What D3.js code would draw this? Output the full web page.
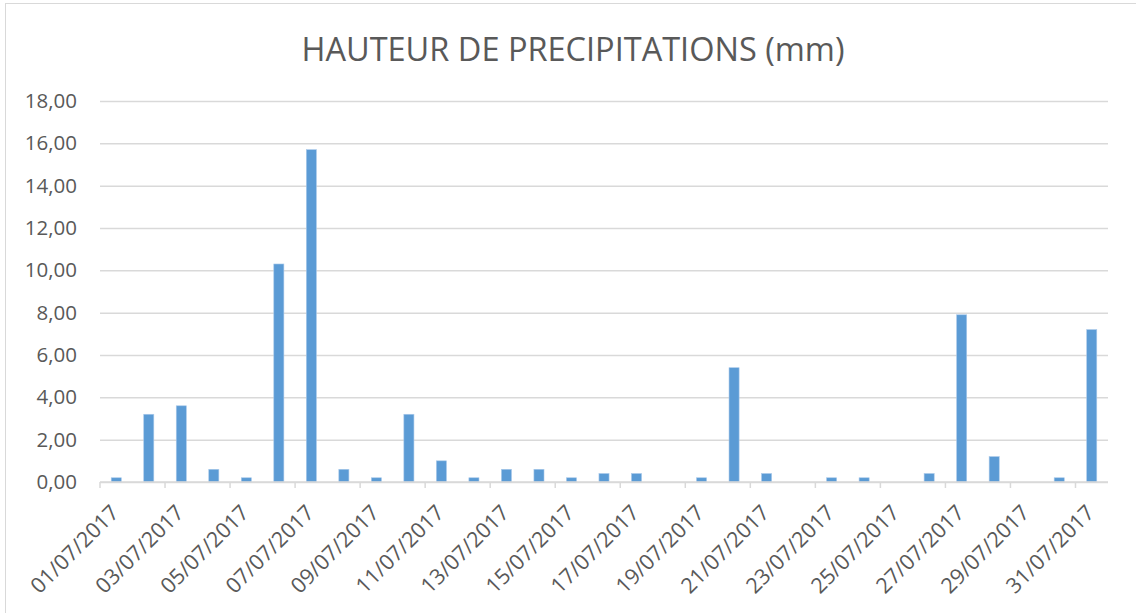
<!DOCTYPE html>
<html>
<head>
<meta charset="utf-8">
<script src="https://cdn.jsdelivr.net/npm/d3@7"></script>
<style>
  body { margin: 0; background: #fff; }
  svg { display: block; }
</style>
</head>
<body>
<svg id="chart"></svg>
<script>
// jours de juillet 2017
const days = [
  "01/07/2017", "02/07/2017", "03/07/2017", "04/07/2017", "05/07/2017",
  "06/07/2017", "07/07/2017", "08/07/2017", "09/07/2017", "10/07/2017",
  "11/07/2017", "12/07/2017", "13/07/2017", "14/07/2017", "15/07/2017",
  "16/07/2017", "17/07/2017", "18/07/2017", "19/07/2017", "20/07/2017",
  "21/07/2017", "22/07/2017", "23/07/2017", "24/07/2017", "25/07/2017",
  "26/07/2017", "27/07/2017", "28/07/2017", "29/07/2017", "30/07/2017",
  "31/07/2017"
];
// hauteur de précipitations (mm)
const rain = [
  0.2, 3.2, 3.6, 0.6, 0.2, 10.3, 15.7, 0.6, 0.2, 3.2,
  1.0, 0.2, 0.6, 0.6, 0.2, 0.4, 0.4, 0, 0.2, 5.4,
  0.4, 0, 0.2, 0.2, 0, 0.4, 7.9, 1.2, 0, 0.2,
  7.2
];
const yTicks = [0, 2, 4, 6, 8, 10, 12, 14, 16, 18];
const chartTitle = "HAUTEUR DE PRECIPITATIONS (mm)";

(function() {
  const width = 1136, height = 613;
  const plot = {left: 100, right: 1108, top: 101, bottom: 482};
  const textColor = "#595959";
  const gridColor = "#d9d9d9";
  const font = "'Open Sans', 'Noto Sans', sans-serif";

  const svg = d3.select("#chart")
    .attr("width", width)
    .attr("height", height);

  // cadre du graphique
  svg.append("rect")
    .attr("x", 5.5).attr("y", 3.5)
    .attr("width", width + 10).attr("height", height + 10)
    .attr("fill", "#fff")
    .attr("stroke", gridColor)
    .attr("stroke-width", 1);

  const x = d3.scaleBand()
    .domain(days)
    .range([plot.left, plot.right])
    .paddingInner(0.69)
    .paddingOuter(0.345);

  const y = d3.scaleLinear()
    .domain([0, 18])
    .range([plot.bottom, plot.top]);

  const fmt = d => d3.format(".2f")(d).replace(".", ",");

  // grille + étiquettes Y
  const yAxis = d3.axisLeft(y)
    .tickValues(yTicks)
    .tickSize(-(plot.right - plot.left))
    .tickPadding(23)
    .tickFormat(fmt);

  const gy = svg.append("g")
    .attr("transform", `translate(${plot.left},0)`)
    .call(yAxis);
  gy.select(".domain").remove();
  gy.selectAll(".tick line")
    .attr("stroke", gridColor)
    .attr("stroke-width", 1.5);
  gy.selectAll(".tick text")
    .attr("fill", textColor)
    .attr("font-family", font)
    .attr("font-size", 20.5);

  // barres
  svg.append("g")
    .selectAll("rect")
    .data(rain.map((v, i) => ({day: days[i], value: v})).filter(d => d.value > 0))
    .join("rect")
    .attr("x", d => x(d.day))
    .attr("y", d => y(d.value))
    .attr("width", x.bandwidth())
    .attr("height", d => y(0) - y(d.value))
    .attr("fill", "#5b9bd5")
    .attr("stroke", "#a9c9ea")
    .attr("stroke-width", 0.6);

  // axe X
  const step = x.step();
  svg.append("line")
    .attr("x1", plot.left).attr("x2", plot.right)
    .attr("y1", plot.bottom).attr("y2", plot.bottom)
    .attr("stroke", gridColor)
    .attr("stroke-width", 1.5);

  const shown = days.filter((d, i) => i % 2 === 0);

  svg.append("g")
    .selectAll("line")
    .data(shown)
    .join("line")
    .attr("x1", d => x(d) - (step - x.bandwidth()) / 2)
    .attr("x2", d => x(d) - (step - x.bandwidth()) / 2)
    .attr("y1", plot.bottom)
    .attr("y2", plot.bottom + 6)
    .attr("stroke", gridColor)
    .attr("stroke-width", 1.5);

  svg.append("g")
    .selectAll("text")
    .data(shown)
    .join("text")
    .attr("transform", d => `translate(${x(d) + x.bandwidth() / 2 + 4},${plot.bottom + 32}) rotate(-45)`)
    .attr("text-anchor", "end")
    .attr("fill", textColor)
    .attr("font-family", font)
    .attr("font-size", 21.5)
    .text(d => d);

  // titre
  svg.append("text")
    .attr("x", 573)
    .attr("y", 61)
    .attr("text-anchor", "middle")
    .attr("fill", textColor)
    .attr("font-family", font)
    .attr("font-size", 32.5)
    .text(chartTitle);
})();
</script>
</body>
</html>
